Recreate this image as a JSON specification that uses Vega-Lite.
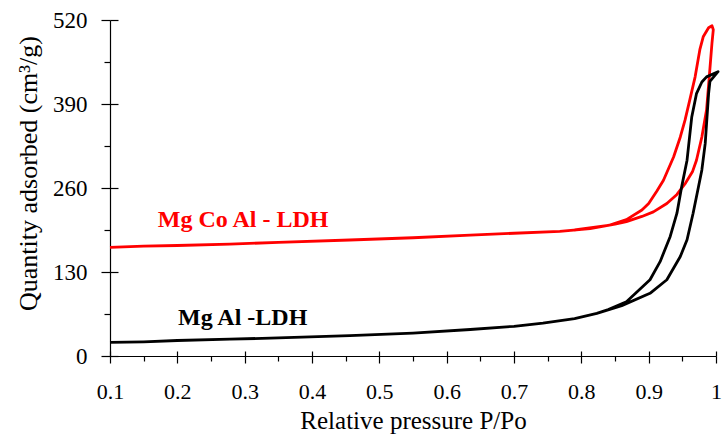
{
  "$schema": "https://vega.github.io/schema/vega-lite/v6.json",
  "width": 606,
  "height": 336,
  "autosize": {"type": "none"},
  "padding": {"left": 110, "top": 20, "right": 10, "bottom": 78},
  "background": "white",
  "config": {
    "view": {"stroke": null},
    "font": "Liberation Serif",
    "axis": {"grid": false, "domainColor": "black", "tickColor": "black", "domainWidth": 1.2, "tickWidth": 1.2, "labelColor": "black", "titleColor": "black", "labelFont": "Liberation Serif", "titleFont": "Liberation Serif", "titleFontWeight": "normal"}
  },
  "datasets": {
    "curves": [
      {"series": "Mg Co Al - LDH", "i": 1, "p": 0.100, "q": 168},
      {"series": "Mg Co Al - LDH", "i": 2, "p": 0.150, "q": 170},
      {"series": "Mg Co Al - LDH", "i": 3, "p": 0.200, "q": 171},
      {"series": "Mg Co Al - LDH", "i": 4, "p": 0.278, "q": 173},
      {"series": "Mg Co Al - LDH", "i": 5, "p": 0.350, "q": 176},
      {"series": "Mg Co Al - LDH", "i": 6, "p": 0.456, "q": 179.5},
      {"series": "Mg Co Al - LDH", "i": 7, "p": 0.550, "q": 183},
      {"series": "Mg Co Al - LDH", "i": 8, "p": 0.635, "q": 187},
      {"series": "Mg Co Al - LDH", "i": 9, "p": 0.700, "q": 190},
      {"series": "Mg Co Al - LDH", "i": 10, "p": 0.768, "q": 193},
      {"series": "Mg Co Al - LDH", "i": 11, "p": 0.813, "q": 197},
      {"series": "Mg Co Al - LDH", "i": 12, "p": 0.850, "q": 204},
      {"series": "Mg Co Al - LDH", "i": 13, "p": 0.867, "q": 208},
      {"series": "Mg Co Al - LDH", "i": 14, "p": 0.890, "q": 216},
      {"series": "Mg Co Al - LDH", "i": 15, "p": 0.907, "q": 223},
      {"series": "Mg Co Al - LDH", "i": 16, "p": 0.927, "q": 236},
      {"series": "Mg Co Al - LDH", "i": 17, "p": 0.942, "q": 250},
      {"series": "Mg Co Al - LDH", "i": 18, "p": 0.955, "q": 268},
      {"series": "Mg Co Al - LDH", "i": 19, "p": 0.965, "q": 285},
      {"series": "Mg Co Al - LDH", "i": 20, "p": 0.971, "q": 303},
      {"series": "Mg Co Al - LDH", "i": 21, "p": 0.979, "q": 339},
      {"series": "Mg Co Al - LDH", "i": 22, "p": 0.986, "q": 381},
      {"series": "Mg Co Al - LDH", "i": 23, "p": 0.990, "q": 432},
      {"series": "Mg Co Al - LDH", "i": 24, "p": 0.994, "q": 484},
      {"series": "Mg Co Al - LDH", "i": 25, "p": 0.996, "q": 505},
      {"series": "Mg Co Al - LDH", "i": 26, "p": 0.994, "q": 511},
      {"series": "Mg Co Al - LDH", "i": 27, "p": 0.989, "q": 508},
      {"series": "Mg Co Al - LDH", "i": 28, "p": 0.981, "q": 494},
      {"series": "Mg Co Al - LDH", "i": 29, "p": 0.976, "q": 474},
      {"series": "Mg Co Al - LDH", "i": 30, "p": 0.969, "q": 432},
      {"series": "Mg Co Al - LDH", "i": 31, "p": 0.961, "q": 396},
      {"series": "Mg Co Al - LDH", "i": 32, "p": 0.954, "q": 365},
      {"series": "Mg Co Al - LDH", "i": 33, "p": 0.947, "q": 339},
      {"series": "Mg Co Al - LDH", "i": 34, "p": 0.937, "q": 308},
      {"series": "Mg Co Al - LDH", "i": 35, "p": 0.922, "q": 272},
      {"series": "Mg Co Al - LDH", "i": 36, "p": 0.912, "q": 255},
      {"series": "Mg Co Al - LDH", "i": 37, "p": 0.900, "q": 236},
      {"series": "Mg Co Al - LDH", "i": 38, "p": 0.890, "q": 226},
      {"series": "Mg Co Al - LDH", "i": 39, "p": 0.867, "q": 211},
      {"series": "Mg Co Al - LDH", "i": 40, "p": 0.840, "q": 202},
      {"series": "Mg Co Al - LDH", "i": 41, "p": 0.790, "q": 195},
      {"series": "Mg Al -LDH", "i": 1, "p": 0.100, "q": 21},
      {"series": "Mg Al -LDH", "i": 2, "p": 0.150, "q": 22},
      {"series": "Mg Al -LDH", "i": 3, "p": 0.200, "q": 24},
      {"series": "Mg Al -LDH", "i": 4, "p": 0.278, "q": 26},
      {"series": "Mg Al -LDH", "i": 5, "p": 0.350, "q": 28},
      {"series": "Mg Al -LDH", "i": 6, "p": 0.456, "q": 31.5},
      {"series": "Mg Al -LDH", "i": 7, "p": 0.550, "q": 35.5},
      {"series": "Mg Al -LDH", "i": 8, "p": 0.635, "q": 41},
      {"series": "Mg Al -LDH", "i": 9, "p": 0.700, "q": 46},
      {"series": "Mg Al -LDH", "i": 10, "p": 0.743, "q": 51},
      {"series": "Mg Al -LDH", "i": 11, "p": 0.790, "q": 58},
      {"series": "Mg Al -LDH", "i": 12, "p": 0.823, "q": 66},
      {"series": "Mg Al -LDH", "i": 13, "p": 0.860, "q": 78},
      {"series": "Mg Al -LDH", "i": 14, "p": 0.902, "q": 97},
      {"series": "Mg Al -LDH", "i": 15, "p": 0.927, "q": 118},
      {"series": "Mg Al -LDH", "i": 16, "p": 0.947, "q": 154},
      {"series": "Mg Al -LDH", "i": 17, "p": 0.957, "q": 180},
      {"series": "Mg Al -LDH", "i": 18, "p": 0.966, "q": 221},
      {"series": "Mg Al -LDH", "i": 19, "p": 0.974, "q": 262},
      {"series": "Mg Al -LDH", "i": 20, "p": 0.979, "q": 288},
      {"series": "Mg Al -LDH", "i": 21, "p": 0.984, "q": 329},
      {"series": "Mg Al -LDH", "i": 22, "p": 0.989, "q": 406},
      {"series": "Mg Al -LDH", "i": 23, "p": 0.991, "q": 425},
      {"series": "Mg Al -LDH", "i": 24, "p": 1.003, "q": 440},
      {"series": "Mg Al -LDH", "i": 25, "p": 0.986, "q": 432},
      {"series": "Mg Al -LDH", "i": 26, "p": 0.979, "q": 424},
      {"series": "Mg Al -LDH", "i": 27, "p": 0.971, "q": 406},
      {"series": "Mg Al -LDH", "i": 28, "p": 0.964, "q": 370},
      {"series": "Mg Al -LDH", "i": 29, "p": 0.957, "q": 303},
      {"series": "Mg Al -LDH", "i": 30, "p": 0.949, "q": 262},
      {"series": "Mg Al -LDH", "i": 31, "p": 0.942, "q": 221},
      {"series": "Mg Al -LDH", "i": 32, "p": 0.932, "q": 185},
      {"series": "Mg Al -LDH", "i": 33, "p": 0.917, "q": 146},
      {"series": "Mg Al -LDH", "i": 34, "p": 0.902, "q": 118},
      {"series": "Mg Al -LDH", "i": 35, "p": 0.867, "q": 84},
      {"series": "Mg Al -LDH", "i": 36, "p": 0.840, "q": 72},
      {"series": "Mg Al -LDH", "i": 37, "p": 0.823, "q": 66}
    ],
    "labels": [
      {"series": "Mg Co Al - LDH", "p": 0.171, "q": 200},
      {"series": "Mg Al -LDH", "p": 0.201, "q": 48}
    ]
  },
  "resolve": {"axis": {"x": "independent", "y": "independent"}},
  "layer": [
    {
      "data": {"name": "curves"},
      "mark": {"type": "line", "strokeWidth": 2.8, "strokeJoin": "round", "clip": false},
      "encoding": {
        "x": {"field": "p", "type": "quantitative",
          "scale": {"domain": [0.1, 1], "nice": false, "zero": false},
          "axis": {"orient": "bottom", "title": "Relative pressure P/Po",
            "values": [0.1, 0.15, 0.2, 0.25, 0.3, 0.35, 0.4, 0.45, 0.5, 0.55, 0.6, 0.65, 0.7, 0.75, 0.8, 0.85, 0.9, 0.95, 1],
            "tickSize": {"condition": {"test": "abs(datum.value*10 - round(datum.value*10)) < 0.001", "value": 7}, "value": 5},
            "labelExpr": "abs(datum.value*10 - round(datum.value*10)) < 0.001 ? format(datum.value, '.1~f') : ''",
            "labelFontSize": 22, "labelPadding": 18, "labelOverlap": false, "labelFlush": false,
            "titleFontSize": 25, "titleY": 72, "titleBaseline": "alphabetic"}},
        "y": {"field": "q", "type": "quantitative",
          "scale": {"domain": [0, 520], "nice": false},
          "axis": {"orient": "left", "title": "Quantity adsorbed (cm³/g)",
            "values": [0, 65, 130, 195, 260, 325, 390, 455, 520],
            "tickSize": {"condition": {"test": "datum.value % 130 == 0", "value": 9}, "value": 6},
            "labelExpr": "datum.value % 130 == 0 ? datum.label : ''",
            "labelFontSize": 23, "labelPadding": 14, "labelOverlap": false, "labelFlush": false,
            "titleFontSize": 26, "titleX": -82, "titleY": 153, "titleBaseline": "middle", "titleAngle": 270}},
        "color": {"field": "series", "type": "nominal",
          "scale": {"domain": ["Mg Co Al - LDH", "Mg Al -LDH"], "range": ["#ff0000", "#000000"]}, "legend": null},
        "detail": {"field": "series"},
        "order": {"field": "i", "type": "quantitative"}
      }
    },
    {
      "data": {"name": "labels"},
      "mark": {"type": "text", "font": "Liberation Serif", "fontWeight": "bold", "fontSize": 24, "align": "left", "baseline": "alphabetic"},
      "encoding": {
        "x": {"field": "p", "type": "quantitative",
          "axis": {"orient": "top", "offset": -336, "title": null, "labels": false, "domain": false,
            "values": [0.1, 0.2, 0.3, 0.4, 0.5, 0.6, 0.7, 0.8, 0.9, 1], "tickSize": 5}},
        "y": {"field": "q", "type": "quantitative",
          "axis": {"orient": "right", "offset": -606, "title": null, "labels": false, "domain": false,
            "values": [0, 130, 260, 390, 520], "tickSize": 8}},
        "text": {"field": "series"},
        "color": {"field": "series", "type": "nominal", "legend": null}
      }
    }
  ]
}
